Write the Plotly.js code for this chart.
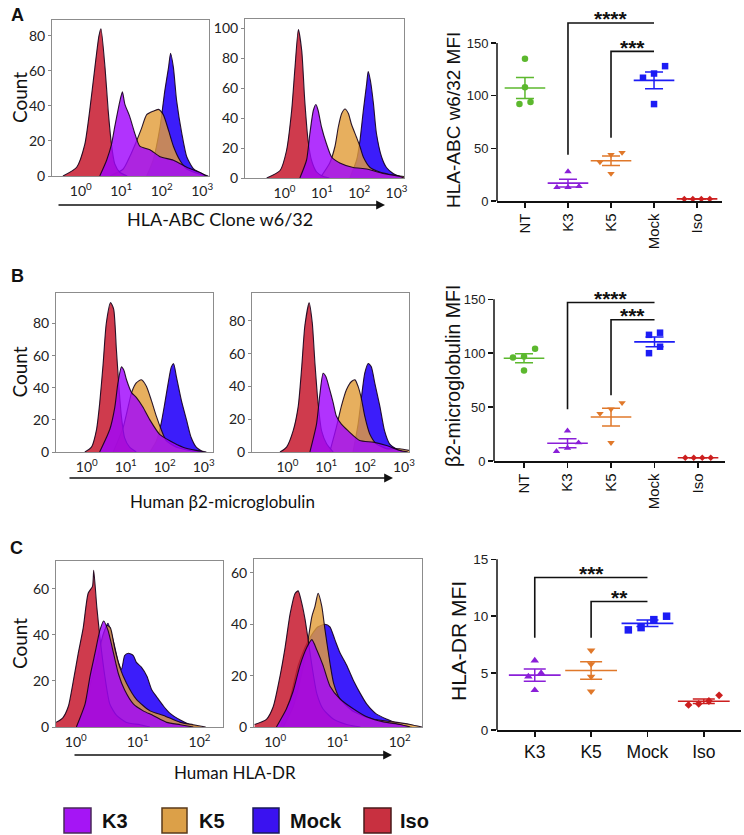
<!DOCTYPE html>
<html><head><meta charset="utf-8">
<script src="https://cdn.plot.ly/plotly-3.0.1.min.js"></script>
<style>html,body{margin:0;padding:0;background:#fff}#chart{width:744px;height:835px}</style>
</head><body><div id="chart"></div>
<script>
// ---------------- DATA ----------------
// Histogram series: E = log10 fluorescence (bin position), N = count
// Panel A, left histogram
const A1_ISO_E = [-0.44,-0.1,0.1,0.22,0.35,0.45,0.5,0.6,0.68,0.76,0.84,0.97,1.15];
const A1_ISO_N = [0,5,18,37,62,80,84,62,37,18,7,2,0];
const A1_K3_E = [0.47,0.64,0.76,0.84,0.97,1.03,1.09,1.21,1.34,1.46,1.71,1.96,2.29,2.62,2.95,3.1];
const A1_K3_N = [0,9,18,28,43,48,41,34,24,17,15,11,9,5,2,0];
const A1_K5_E = [0.72,1.05,1.21,1.38,1.5,1.63,1.79,1.92,2.04,2.17,2.29,2.45,2.62,2.95,3.1];
const A1_K5_N = [0,4,11,20,27,35,37,38,35,26,17,9,4,1,0];
const A1_MOCK_E = [1.63,1.79,1.96,2.08,2.17,2.22,2.29,2.37,2.5,2.62,2.79,3.03,3.15];
const A1_MOCK_N = [0,9,28,49,62,70,62,43,24,11,4,1,0];
// Panel A, right histogram
const A2_ISO_E = [-0.48,-0.12,0.05,0.19,0.28,0.37,0.46,0.54,0.63,0.72,0.86,1.04,1.2];
const A2_ISO_N = [0,5,18,45,74,99,85,52,25,12,4,1,0];
const A2_K3_E = [0.41,0.59,0.68,0.77,0.84,0.9,0.99,1.12,1.26,1.48,1.84,2.2,2.64,3.09,3.2];
const A2_K3_N = [0,12,30,45,49,45,34,23,14,10,7,6,3,1,0];
const A2_K5_E = [0.95,1.21,1.35,1.44,1.53,1.62,1.71,1.79,1.93,2.02,2.11,2.29,2.55,2.91,3.2];
const A2_K5_N = [0,10,21,34,43,46,43,36,27,21,14,7,4,2,1];
const A2_MOCK_E = [1.75,1.93,2.02,2.11,2.2,2.24,2.3,2.38,2.46,2.6,2.73,2.91,3.2];
const A2_MOCK_N = [0,12,25,45,63,71,65,50,30,14,7,3,0];
// Panel B, left histogram
const B1_ISO_E = [-0.05,0.12,0.25,0.33,0.42,0.5,0.61,0.69,0.76,0.83,0.89,0.97,1.1,1.27];
const B1_ISO_N = [0,3,14,30,55,80,93,89,64,39,22,9,3,0];
const B1_K3_E = [0.33,0.59,0.72,0.8,0.89,0.95,1.02,1.15,1.27,1.44,1.62,1.87,2.13,2.47,2.81,3.07];
const B1_K3_N = [0,14,28,43,53,51,45,37,34,28,20,11,7,3,1,0];
const B1_K5_E = [0.68,0.93,1.06,1.15,1.27,1.4,1.53,1.66,1.79,1.91,2.04,2.3,2.64,2.9];
const B1_K5_N = [0,15,28,37,43,45,41,32,22,14,7,3,1,0];
const B1_MOCK_E = [1.62,1.79,1.91,2.0,2.09,2.17,2.23,2.3,2.43,2.56,2.68,2.81,2.98];
const B1_MOCK_N = [0,7,18,30,43,53,55,47,32,20,9,3,0];
// Panel B, right histogram
const B2_ISO_E = [-0.19,-0.02,0.15,0.28,0.37,0.45,0.56,0.64,0.71,0.79,0.88,1.01,1.18];
const B2_ISO_N = [0,3,13,28,52,77,91,79,54,30,13,5,0];
const B2_K3_E = [0.58,0.75,0.84,0.92,0.99,1.09,1.18,1.26,1.39,1.56,1.86,2.21,2.55,2.89,3.1];
const B2_K3_N = [0,17,36,48,46,38,30,22,17,13,7,6,4,1,0];
const B2_K5_E = [1.09,1.26,1.39,1.52,1.65,1.74,1.82,1.91,1.99,2.12,2.29,2.55,2.89,3.13];
const B2_K5_N = [0,15,28,38,43,44,40,32,22,11,5,2,2,1];
const B2_MOCK_E = [1.69,1.82,1.91,1.99,2.08,2.16,2.25,2.38,2.5,2.63,2.8,3.0];
const B2_MOCK_N = [0,17,34,48,54,52,42,28,13,5,2,0];
// Panel C, left histogram
const C1_ISO_E = [-0.32,-0.21,-0.12,-0.04,0.04,0.12,0.2,0.27,0.29,0.34,0.39,0.47,0.55,0.66,0.82,1.04,1.2];
const C1_ISO_N = [2,4,9,20,32,43,58,61,68,52,39,22,10,5,2,1,0];
const C1_K3_E = [0.01,0.15,0.23,0.31,0.39,0.45,0.52,0.61,0.69,0.79,0.93,1.09,1.25,1.47,1.69,1.9];
const C1_K3_N = [0,10,22,32,42,46,42,32,23,16,10,7,5,2,1,0];
const C1_K5_E = [0.01,0.15,0.25,0.36,0.44,0.51,0.56,0.63,0.71,0.82,0.98,1.2,1.42,1.69,1.9,2.1];
const C1_K5_N = [0,9,20,31,40,44,43,34,26,19,12,7,5,2,1,0];
const C1_MOCK_E = [0.01,0.17,0.28,0.39,0.47,0.52,0.61,0.69,0.74,0.79,0.85,0.93,0.98,1.06,1.15,1.23,1.31,1.42,1.52,1.69,1.85,2.0];
const C1_MOCK_N = [0,9,20,32,42,45,37,28,25,31,32,31,28,26,22,16,13,9,6,3,1,0];
// Panel C, right histogram
const C2_ISO_E = [-0.33,-0.14,-0.03,0.08,0.16,0.24,0.32,0.37,0.42,0.48,0.53,0.59,0.67,0.77,0.94,1.15,1.37];
const C2_ISO_N = [1,3,8,20,31,44,52,53,49,42,34,24,13,7,3,1,0];
const C2_K3_E = [0.02,0.18,0.29,0.4,0.51,0.59,0.67,0.77,0.88,1.04,1.26,1.47,1.74,2.01,2.17];
const C2_K3_N = [0,7,14,24,31,34,30,24,16,11,7,4,2,1,0];
const C2_K5_E = [0.13,0.29,0.4,0.51,0.59,0.64,0.69,0.75,0.8,0.88,0.94,1.04,1.26,1.58,1.9,2.17,2.36];
const C2_K5_N = [0,8,18,31,43,47,52,47,38,25,17,11,6,3,2,1,0];
const C2_MOCK_E = [0.08,0.24,0.37,0.48,0.59,0.69,0.8,0.88,0.96,1.04,1.15,1.26,1.37,1.47,1.63,1.8,2.01,2.2];
const C2_MOCK_N = [0,11,24,31,36,39,40,39,34,29,24,18,13,9,5,3,1,0];

const DECADES3 = [1,10,100,1000];
const DECADE_LABELS3 = ['10<sup>0</sup>','10<sup>1</sup>','10<sup>2</sup>','10<sup>3</sup>'];
const DECADES2 = [1,10,100];
const DECADE_LABELS2 = ['10<sup>0</sup>','10<sup>1</sup>','10<sup>2</sup>'];

// MFI dot plots (one value per replicate)
const A_GROUPS = ['NT','K3','K5','Mock','Iso'];
const A_NT = [135,108,92,94];
const A_K3 = [28,13,14,13];
const A_K5 = [44,46,37,26];
const A_MOCK = [128,121,117,92];
const A_ISO = [2,2,2,2];
const A_SIG = [['K3','Mock',44,169,'****'],['K5','Mock',60,142,'***']];

const B_GROUPS = ['NT','K3','K5','Mock','Iso'];
const B_NT = [104,97,96,84];
const B_K3 = [28,9,12,17];
const B_K5 = [54,44,48,17];
const B_MOCK = [117,119,106,100];
const B_ISO = [3,3,3,3];
const B_SIG = [['K3','Mock',48,147,'****'],['K5','Mock',61,131,'***']];

const C_GROUPS = ['K3','K5','Mock','Iso'];
const C_K3 = [6.1,5.0,4.7,3.5];
const C_K5 = [7.0,5.8,4.7,3.4];
const C_MOCK = [8.8,9.7,10.0,9.0];
const C_ISO = [2.2,2.55,3.05,2.3];
const C_SIG = [['K3','Mock',8.1,13.4,'***'],['K5','Mock',8.1,11.3,'**']];

const LEGEND_NAMES = ['K3','K5','Mock','Iso'];

// ---------------- STYLE / LAYOUT ----------------
const W = 744, H = 835;
const fx = px => px / W;
const fy = px => 1 - px / H;
const HFONT = 'Lato, "Open Sans", sans-serif';
const AFONT = '"Liberation Sans", Arial, sans-serif';

const HFILL = {Mock:'rgba(45,12,250,0.93)', K5:'rgba(226,158,58,0.82)', Iso:'rgba(200,32,52,0.88)', K3:'rgba(160,6,252,0.82)'};
const HLINE = 'rgba(20,0,25,0.9)';
const GSTYLE = {
  NT:{color:'#5cb82e', symbol:'circle'},
  K3:{color:'#8a1fd8', symbol:'triangle-up'},
  K5:{color:'#e0782a', symbol:'triangle-down'},
  Mock:{color:'#1c1cf5', symbol:'square'},
  Iso:{color:'#cc1f1f', symbol:'diamond'}
};
const LEGEND_FILL = {K3:'#a515f5', K5:'#dca048', Mock:'#3a12f0', Iso:'#c83040'};
const LEGEND_LINE = {K3:'#4a2a5a', K5:'#5a3a1a', Mock:'#1a1a5a', Iso:'#4a1a1a'};

const layout = {
  width: W, height: H, margin:{l:0,r:0,t:0,b:0},
  paper_bgcolor:'#fff', plot_bgcolor:'rgba(0,0,0,0)', showlegend:false,
  shapes:[], annotations:[]
};
const traces = [];
const aid = (a,n) => a + (n === 1 ? '' : n);
const akey = (a,n) => a + 'axis' + (n === 1 ? '' : n);

const HPANELS = [
  {n:1, box:[52,209,20,176], xr:[-0.71,3.17], yr:[0,89], yt:[0,20,40,60,80], dec:3, count:true,
   s:{Mock:[A1_MOCK_E,A1_MOCK_N], K5:[A1_K5_E,A1_K5_N], Iso:[A1_ISO_E,A1_ISO_N], K3:[A1_K3_E,A1_K3_N]}},
  {n:2, box:[245,404,19,178], xr:[-1.06,3.2], yr:[0,106], yt:[0,20,40,60,80,100], dec:3,
   s:{Mock:[A2_MOCK_E,A2_MOCK_N], K5:[A2_K5_E,A2_K5_N], Iso:[A2_ISO_E,A2_ISO_N], K3:[A2_K3_E,A2_K3_N]}},
  {n:4, box:[56,213,293,452], xr:[-0.79,3.24], yr:[0,99], yt:[0,20,40,60,80], dec:3, count:true,
   s:{Mock:[B1_MOCK_E,B1_MOCK_N], K5:[B1_K5_E,B1_K5_N], Iso:[B1_ISO_E,B1_ISO_N], K3:[B1_K3_E,B1_K3_N]}},
  {n:5, box:[252,409,293,452], xr:[-0.91,3.13], yr:[0,97], yt:[0,20,40,60,80], dec:3,
   s:{Mock:[B2_MOCK_E,B2_MOCK_N], K5:[B2_K5_E,B2_K5_N], Iso:[B2_ISO_E,B2_ISO_N], K3:[B2_K3_E,B2_K3_N]}},
  {n:7, box:[56,223,561,727], xr:[-0.32,2.38], yr:[0,72], yt:[0,20,40,60], dec:2, count:true,
   s:{Mock:[C1_MOCK_E,C1_MOCK_N], K5:[C1_K5_E,C1_K5_N], Iso:[C1_ISO_E,C1_ISO_N], K3:[C1_K3_E,C1_K3_N]}},
  {n:8, box:[254,422,559,727], xr:[-0.34,2.36], yr:[0,65.4], yt:[0,20,40,60], dec:2,
   s:{Mock:[C2_MOCK_E,C2_MOCK_N], K5:[C2_K5_E,C2_K5_N], Iso:[C2_ISO_E,C2_ISO_N], K3:[C2_K3_E,C2_K3_N]}}
];

HPANELS.forEach(p => {
  const [l,r,t,b] = p.box;
  layout[akey('x',p.n)] = {
    domain:[fx(l),fx(r)], anchor:aid('y',p.n), type:'log', range:p.xr,
    tickvals: p.dec===3?DECADES3:DECADES2, ticktext: p.dec===3?DECADE_LABELS3:DECADE_LABELS2,
    ticks:'', showgrid:false, zeroline:false, showline:true, mirror:true,
    linecolor:'#8c8c8c', linewidth:1, tickfont:{family:HFONT,size:14,color:'#222'}, ticklabelstandoff:2
  };
  layout[akey('y',p.n)] = {
    domain:[fy(b),fy(t)], anchor:aid('x',p.n), range:p.yr, tickvals:p.yt,
    ticks:'outside', ticklen:3, tickcolor:'#888', showgrid:false, zeroline:false,
    showline:true, mirror:true, linecolor:'#8c8c8c', linewidth:1,
    tickfont:{family:HFONT,size:14,color:'#222'}
  };
  ['Mock','K5','Iso','K3'].forEach(k => {
    const [E,N] = p.s[k];
    traces.push({type:'scatter', mode:'lines', x:E.map(e=>Math.pow(10,e)), y:N,
      xaxis:aid('x',p.n), yaxis:aid('y',p.n), fill:'tozeroy', fillcolor:HFILL[k],
      line:{shape:'spline', smoothing:0.6, color:HLINE, width:1.1}, hoverinfo:'skip'});
  });
  if (p.count) {
    layout.annotations.push({xref:'paper', yref:'paper', x:fx(19), y:fy((t+b)/2), text:'Count',
      textangle:-90, showarrow:false, xanchor:'center', yanchor:'middle',
      font:{family:HFONT,size:19,color:'#111'}});
  }
});

// dot plots
const DPANELS = [
  {n:3, box:[497,722,10,201], xr:[-0.65,4.58], yr:[0,181.3], yt:[0,50,100,150], top:150,
   groups:A_GROUPS, vals:[A_NT,A_K3,A_K5,A_MOCK,A_ISO], sig:A_SIG, title:'HLA-ABC w6/32 MFI',
   tpos:[453,120], tsize:19, tangle:-90, xts:15, yts:13, ms:6.5, meanW:29, cap:9},
  {n:6, box:[494,725,275,461], xr:[-0.69,4.62], yr:[0,172.5], yt:[0,50,100,150], top:150,
   groups:B_GROUPS, vals:[B_NT,B_K3,B_K5,B_MOCK,B_ISO], sig:B_SIG, title:'β2-microglobulin MFI',
   tpos:[453,376], tsize:19.5, tangle:-90, xts:15, yts:13, ms:6.5, meanW:29, cap:9},
  {n:9, box:[497,741,545,730], xr:[-0.67,3.66], yr:[0,16.26], yt:[0,5,10,15], top:15,
   groups:C_GROUPS, vals:[C_K3,C_K5,C_MOCK,C_ISO], sig:C_SIG, title:'HLA-DR MFI',
   tpos:[458,641], tsize:21, tangle:0, xts:17.5, yts:13.5, ms:7.5, meanW:37, cap:11}
];

function swarm(vals, pxPerUnit, dPx, step) {
  const idx = vals.map((v,i)=>i).sort((a,b)=>vals[a]-vals[b]);
  const off = new Array(vals.length).fill(0);
  let cl = [idx[0]];
  const flush = () => { const n = cl.length; cl.forEach((k,j)=>{ off[k] = (j-(n-1)/2)*step; }); };
  for (let t=1; t<idx.length; t++) {
    if ((vals[idx[t]]-vals[idx[t-1]])*pxPerUnit < dPx) cl.push(idx[t]);
    else { flush(); cl = [idx[t]]; }
  }
  flush();
  return off;
}
const mean = a => a.reduce((s,v)=>s+v,0)/a.length;
const sem = a => { const m = mean(a); return Math.sqrt(a.reduce((s,v)=>s+(v-m)*(v-m),0)/(a.length-1))/Math.sqrt(a.length); };

DPANELS.forEach(p => {
  const [l,r,t,b] = p.box;
  const xa = aid('x',p.n), ya = aid('y',p.n);
  const pxPerUnit = (b-t)/(p.yr[1]-p.yr[0]);
  const pxPerCat = (r-l)/(p.xr[1]-p.xr[0]);
  layout[akey('x',p.n)] = {
    domain:[fx(l),fx(r)], anchor:ya, range:p.xr, tickvals:p.groups.map((g,i)=>i), ticktext:p.groups,
    tickangle:p.tangle, ticks:'outside', ticklen:5, tickwidth:1.5, tickcolor:'#111',
    showline:true, linewidth:1.5, linecolor:'#111', showgrid:false, zeroline:false,
    tickfont:{family:AFONT,size:p.xts,color:'#111'}
  };
  layout[akey('y',p.n)] = {
    domain:[fy(b),fy(t)], anchor:xa, range:p.yr, tickvals:p.yt,
    ticks:'outside', ticklen:5, tickwidth:1.5, tickcolor:'#111',
    showline:false, showgrid:false, zeroline:false,
    tickfont:{family:AFONT,size:p.yts,color:'#222'}
  };
  layout.shapes.push({type:'line', xref:xa+' domain', x0:0, x1:0, yref:ya, y0:0, y1:p.top,
    line:{color:'#111', width:1.5}});
  p.groups.forEach((g,i) => {
    const v = p.vals[i];
    const st = GSTYLE[g];
    const size = g==='Iso' ? p.ms-1.5 : p.ms;
    const off = swarm(v, pxPerUnit, size*1.2, size*1.7/pxPerCat);
    traces.push({type:'scatter', mode:'markers', x:v.map((_,k)=>i+off[k]), y:v,
      xaxis:xa, yaxis:ya, cliponaxis:false, hoverinfo:'skip',
      marker:{symbol:st.symbol, size:size, color:st.color, line:{width:0}}});
    traces.push({type:'scatter', mode:'markers', x:[i], y:[mean(v)], xaxis:xa, yaxis:ya,
      cliponaxis:false, hoverinfo:'skip',
      marker:{symbol:'line-ew', size:p.meanW, color:st.color, line:{color:st.color, width:1.6}},
      error_y:{type:'data', array:[sem(v)], visible:true, color:st.color, thickness:1.5, width:p.cap}});
  });
  p.sig.forEach(([g1,g2,base,bar,lab]) => {
    const i1 = p.groups.indexOf(g1), i2 = p.groups.indexOf(g2);
    traces.push({type:'scatter', mode:'lines', x:[i1,i1,i2], y:[base,bar,bar], xaxis:xa, yaxis:ya,
      line:{color:'#111', width:1.6}, hoverinfo:'skip', cliponaxis:false});
    layout.annotations.push({xref:xa, yref:ya, x:(i1+i2)/2, y:bar, text:'<b>'+lab+'</b>',
      showarrow:false, xanchor:'center', yanchor:'middle', yshift:4,
      font:{family:AFONT, size:21, color:'#111'}});
  });
  layout.annotations.push({xref:'paper', yref:'paper', x:fx(p.tpos[0]), y:fy(p.tpos[1]), text:p.title,
    textangle:-90, showarrow:false, xanchor:'center', yanchor:'middle',
    font:{family:AFONT, size:p.tsize, color:'#111'}});
});

// panel letters
[['A',17,15],['B',17,276],['C',16,548]].forEach(([t,x,y]) => layout.annotations.push({
  xref:'paper', yref:'paper', x:fx(x), y:fy(y), text:'<b>'+t+'</b>', showarrow:false,
  xanchor:'center', yanchor:'middle', font:{family:AFONT,size:18,color:'#111'}}));

// axis arrows + labels under histogram pairs
[[57,385,205,'HLA-ABC Clone w6/32',220,219,18],
 [68,393,478,'Human β2-microglobulin',222,501,17],
 [73,392,755,'Human HLA-DR',235,772,17]].forEach(([x0,x1,y,lab,lx,ly,fs]) => {
  layout.annotations.push({xref:'paper', yref:'paper', x:fx(x1), y:fy(y), ax:x0-x1, ay:0,
    axref:'pixel', ayref:'pixel', text:'', showarrow:true, arrowhead:2, arrowsize:1.1,
    arrowwidth:1.6, arrowcolor:'#111'});
  layout.annotations.push({xref:'paper', yref:'paper', x:fx(lx), y:fy(ly), text:lab, showarrow:false,
    xanchor:'center', yanchor:'middle', font:{family:HFONT,size:fs,color:'#111'}});
});

// legend
const LEG_BOX = [[64,91],[162,187],[253,279],[364,391]];
const LEG_TXT = [100,197,288,398];
LEGEND_NAMES.forEach((k,i) => {
  layout.shapes.push({type:'rect', xref:'paper', yref:'paper', x0:fx(LEG_BOX[i][0]), x1:fx(LEG_BOX[i][1]),
    y0:fy(833), y1:fy(808), fillcolor:LEGEND_FILL[k], line:{color:LEGEND_LINE[k], width:1.5}});
  layout.annotations.push({xref:'paper', yref:'paper', x:fx(LEG_TXT[i]), y:fy(821), text:'<b>'+k+'</b>',
    showarrow:false, xanchor:'left', yanchor:'middle', font:{family:AFONT,size:20,color:'#111'}});
});

Plotly.newPlot('chart', traces, layout, {displayModeBar:false, staticPlot:true});
</script></body></html>
